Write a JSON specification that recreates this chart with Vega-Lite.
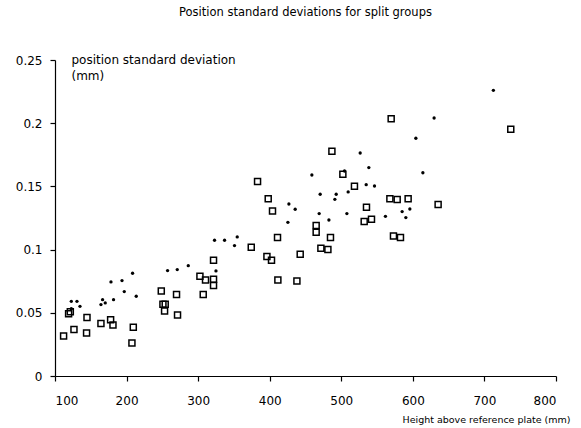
{
  "$schema": "https://vega.github.io/schema/vega-lite/v6.json",
  "width": 501,
  "height": 316,
  "autosize": "none",
  "padding": {"left": 55, "top": 60, "right": 25, "bottom": 52},
  "background": "white",
  "config": {
    "view": {"stroke": null},
    "font": "DejaVu Sans",
    "axis": {"grid": false, "domainColor": "black", "tickColor": "black", "domainWidth": 1.2, "tickWidth": 1.2, "labelColor": "black", "titleColor": "black", "labelFont": "DejaVu Sans", "titleFont": "DejaVu Sans", "titleFontWeight": "normal"}
  },
  "title": {
    "text": "Position standard deviations for split groups",
    "fontSize": 11.5,
    "fontWeight": "normal",
    "font": "DejaVu Sans",
    "anchor": "middle",
    "frame": "group",
    "baseline": "top",
    "offset": 35,
    "color": "black"
  },
  "data": {
    "values": [
      {"g": "dot", "h": 122.8, "sd": 0.0591},
      {"g": "dot", "h": 130.7, "sd": 0.0591},
      {"g": "dot", "h": 134.9, "sd": 0.0551},
      {"g": "dot", "h": 122.8, "sd": 0.0533},
      {"g": "dot", "h": 166.5, "sd": 0.0604},
      {"g": "dot", "h": 164.2, "sd": 0.0565},
      {"g": "dot", "h": 170.2, "sd": 0.0578},
      {"g": "dot", "h": 178.2, "sd": 0.0744},
      {"g": "dot", "h": 181.8, "sd": 0.0604},
      {"g": "dot", "h": 193.6, "sd": 0.0755},
      {"g": "dot", "h": 196.8, "sd": 0.0668},
      {"g": "dot", "h": 208.4, "sd": 0.0813},
      {"g": "dot", "h": 213.5, "sd": 0.0631},
      {"g": "dot", "h": 257.3, "sd": 0.0834},
      {"g": "dot", "h": 270.8, "sd": 0.0842},
      {"g": "dot", "h": 286.2, "sd": 0.0873},
      {"g": "dot", "h": 324.9, "sd": 0.0831},
      {"g": "dot", "h": 322.9, "sd": 0.1074},
      {"g": "dot", "h": 336.9, "sd": 0.1074},
      {"g": "dot", "h": 354.6, "sd": 0.110},
      {"g": "dot", "h": 350.8, "sd": 0.1032},
      {"g": "dot", "h": 426.8, "sd": 0.1361},
      {"g": "dot", "h": 435.6, "sd": 0.1319},
      {"g": "dot", "h": 425.4, "sd": 0.1216},
      {"g": "dot", "h": 458.9, "sd": 0.159},
      {"g": "dot", "h": 469.1, "sd": 0.1285},
      {"g": "dot", "h": 470.5, "sd": 0.1438},
      {"g": "dot", "h": 482.7, "sd": 0.1234},
      {"g": "dot", "h": 492.9, "sd": 0.1438},
      {"g": "dot", "h": 491.0, "sd": 0.1398},
      {"g": "dot", "h": 504.5, "sd": 0.1622},
      {"g": "dot", "h": 509.6, "sd": 0.1456},
      {"g": "dot", "h": 507.8, "sd": 0.1285},
      {"g": "dot", "h": 526.4, "sd": 0.1764},
      {"g": "dot", "h": 538.5, "sd": 0.1649},
      {"g": "dot", "h": 534.8, "sd": 0.1514},
      {"g": "dot", "h": 546.4, "sd": 0.1503},
      {"g": "dot", "h": 561.7, "sd": 0.1263},
      {"g": "dot", "h": 585.0, "sd": 0.1301},
      {"g": "dot", "h": 595.8, "sd": 0.1321},
      {"g": "dot", "h": 590.2, "sd": 0.1253},
      {"g": "dot", "h": 614.0, "sd": 0.1608},
      {"g": "dot", "h": 604.2, "sd": 0.1881},
      {"g": "dot", "h": 629.7, "sd": 0.2041},
      {"g": "dot", "h": 712.5, "sd": 0.226},
      {"g": "square", "h": 119.0, "sd": 0.0492},
      {"g": "square", "h": 121.4, "sd": 0.0508},
      {"g": "square", "h": 144.7, "sd": 0.0462},
      {"g": "square", "h": 112.0, "sd": 0.0316},
      {"g": "square", "h": 126.5, "sd": 0.0367},
      {"g": "square", "h": 144.1, "sd": 0.034},
      {"g": "square", "h": 164.2, "sd": 0.0415},
      {"g": "square", "h": 177.7, "sd": 0.0446},
      {"g": "square", "h": 181.0, "sd": 0.0403},
      {"g": "square", "h": 209.4, "sd": 0.0385},
      {"g": "square", "h": 207.5, "sd": 0.0261},
      {"g": "square", "h": 248.5, "sd": 0.0672},
      {"g": "square", "h": 250.8, "sd": 0.0567},
      {"g": "square", "h": 254.0, "sd": 0.0567},
      {"g": "square", "h": 253.1, "sd": 0.0514},
      {"g": "square", "h": 269.8, "sd": 0.0644},
      {"g": "square", "h": 271.2, "sd": 0.0483},
      {"g": "square", "h": 302.5, "sd": 0.0789},
      {"g": "square", "h": 310.3, "sd": 0.0759},
      {"g": "square", "h": 321.5, "sd": 0.0915},
      {"g": "square", "h": 321.5, "sd": 0.0765},
      {"g": "square", "h": 321.5, "sd": 0.0715},
      {"g": "square", "h": 307.1, "sd": 0.0644},
      {"g": "square", "h": 374.2, "sd": 0.1018},
      {"g": "square", "h": 383.0, "sd": 0.1538},
      {"g": "square", "h": 397.9, "sd": 0.1403},
      {"g": "square", "h": 403.9, "sd": 0.1305},
      {"g": "square", "h": 410.9, "sd": 0.1095},
      {"g": "square", "h": 396.1, "sd": 0.0945},
      {"g": "square", "h": 402.5, "sd": 0.0915},
      {"g": "square", "h": 411.4, "sd": 0.0759},
      {"g": "square", "h": 438.0, "sd": 0.0752},
      {"g": "square", "h": 442.6, "sd": 0.0963},
      {"g": "square", "h": 464.9, "sd": 0.119},
      {"g": "square", "h": 464.9, "sd": 0.1137},
      {"g": "square", "h": 484.9, "sd": 0.1095},
      {"g": "square", "h": 471.5, "sd": 0.101},
      {"g": "square", "h": 481.3, "sd": 0.100},
      {"g": "square", "h": 486.9, "sd": 0.1778},
      {"g": "square", "h": 502.2, "sd": 0.1596},
      {"g": "square", "h": 518.4, "sd": 0.1501},
      {"g": "square", "h": 535.2, "sd": 0.1335},
      {"g": "square", "h": 532.0, "sd": 0.1222},
      {"g": "square", "h": 542.2, "sd": 0.124},
      {"g": "square", "h": 567.9, "sd": 0.1403},
      {"g": "square", "h": 578.1, "sd": 0.1396},
      {"g": "square", "h": 593.4, "sd": 0.1403},
      {"g": "square", "h": 572.9, "sd": 0.1108},
      {"g": "square", "h": 582.7, "sd": 0.1096},
      {"g": "square", "h": 635.3, "sd": 0.1356},
      {"g": "square", "h": 569.7, "sd": 0.2036},
      {"g": "square", "h": 736.8, "sd": 0.1952}
    ]
  },
  "encoding": {
    "x": {
      "field": "h", "type": "quantitative",
      "scale": {"domain": [100, 800], "nice": false, "zero": false},
      "axis": {
        "values": [100, 200, 300, 400, 500, 600, 700, 800],
        "tickSize": 5, "labelPadding": 14, "labelFontSize": 12,
        "title": "Height above reference plate (mm)",
        "titleFontSize": 9.5, "titleAlign": "right", "titleAnchor": null,
        "titleX": 515, "titleY": 46, "titleBaseline": "alphabetic"
      }
    },
    "y": {
      "field": "sd", "type": "quantitative",
      "scale": {"domain": [0, 0.25], "nice": false},
      "axis": {
        "values": [0, 0.05, 0.1, 0.15, 0.2, 0.25],
        "labelExpr": "datum.value === 0 ? '0' : format(datum.value, '.2~f')",
        "tickSize": 5, "labelPadding": 8, "labelFontSize": 12,
        "title": ["position standard deviation", "(mm)"],
        "titleFontSize": 12, "titleAngle": 0, "titleAlign": "left", "titleAnchor": null,
        "titleBaseline": "alphabetic", "titleX": 16, "titleY": 3, "titleLineHeight": 16
      }
    }
  },
  "layer": [
    {
      "transform": [{"filter": "datum.g === 'square'"}],
      "mark": {"type": "point", "shape": "square", "filled": false, "size": 36, "strokeWidth": 1.5, "color": "black", "opacity": 1}
    },
    {
      "transform": [{"filter": "datum.g === 'dot'"}],
      "mark": {"type": "point", "shape": "circle", "filled": true, "size": 11, "color": "black", "opacity": 1}
    }
  ]
}
